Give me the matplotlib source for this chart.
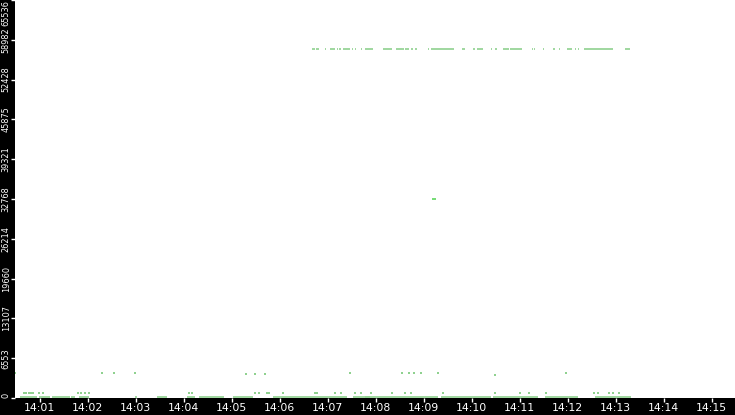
import matplotlib
matplotlib.use("Agg")
import matplotlib.pyplot as plt
from matplotlib.ticker import FuncFormatter

# times are seconds after 14:00:00, values are raw levels (0..65536)

# upper band (~57600): segments start/end
top_level = 57500
top_start = [400, 405, 416.6, 422.5, 431.6, 434.1, 438.4, 450, 454.1, 460.9, 466.6,
             489.1, 505, 516.6, 524.1, 529.1, 545, 548.4, 587.5, 601.6, 606, 623.4,
             629.1, 638.4, 647.5, 675, 677.5, 689.1, 693.4, 697.5, 701.6, 709.1,
             718.4, 728.4, 732.5, 740, 791.6]
top_end = [403.4, 409.1, 417.5, 429.1, 432.5, 436.6, 447.5, 450.9, 455, 462.5, 475.9,
           500, 515, 520.9, 526.6, 530.9, 545.9, 577.5, 590.9, 603.4, 614.1, 625,
           631.6, 645.9, 662.5, 675.9, 678.4, 689.9, 694.2, 698.3, 703.4, 709.9,
           725, 730, 733.4, 776.6, 797.5]

# middle band (32768)
mid_level = 32768
mid_start = [542.5, 546.3, 550]
mid_end = [543.3, 547.1, 555]

# low points (~4096)
low_t = [29.6, 137.9, 152.9, 179.1, 317.5, 329.1, 341.6, 447.9, 512.9, 522.1,
         527.9, 537.1, 557.9, 629.1, 717.9]
low_v = [4096, 4096, 4096, 4096, 3900, 3900, 3900, 4096, 4096, 4096,
         4096, 4096, 4096, 3800, 4096]

# small points (~800)
small_t = [40, 43, 46, 49, 52, 59.1, 63.4, 108, 112, 116, 121, 246, 250, 329.1,
           334.1, 344.1, 346.6, 364.1, 404.1, 406.6, 428.4, 436.6, 454.1, 461.6,
           473.8, 500.4, 516.3, 523.8, 563.8, 628.8, 660.4, 672.1, 692.9, 752.9,
           757.9, 771.3, 777.1, 783.8]
small_level = 800

# floor band (~150)
floor_level = 150
floor_start = [35, 58.8, 75, 99.1, 109.1, 179.1, 206.6, 243.4, 258.4, 301.6, 351.6,
               451.6, 466.3, 562.1, 627.1, 691.3, 753.8]
floor_end = [56.6, 72.5, 97.5, 104.1, 121.6, 180.9, 218.4, 253.4, 290, 326.6, 443.4,
             472.5, 557.9, 624.6, 682.9, 732.9, 799.6]

yticks = [0, 6553, 13107, 19660, 26214, 32768, 39321, 45875, 52428, 58982, 65536]
xticks = list(range(60, 960, 60))

green = "#8fd18f"

fig = plt.figure(figsize=(7.35, 4.15), dpi=100, facecolor="black")
ax = fig.add_axes([15 / 735, 17 / 415, 720 / 735, 398 / 415])
ax.set_facecolor("white")

ax.hlines([top_level] * len(top_start), top_start, top_end, color=green, lw=1.2)
ax.hlines([mid_level] * len(mid_start), mid_start, mid_end, color="#5cd65c", lw=1.2)
ax.hlines([floor_level] * len(floor_start), floor_start, floor_end, color=green, lw=1.2)
ax.scatter(low_t, low_v, s=1.2, marker="s", color=green, linewidths=0)
ax.scatter(small_t, [small_level] * len(small_t), s=1.2, marker="s", color=green, linewidths=0)

ax.set_xlim(29, 929)
ax.set_ylim(0, 65536)

ax.set_xticks(xticks)
ax.xaxis.set_major_formatter(FuncFormatter(lambda v, p: "14:%02d" % int(round(v / 60))))
ax.set_yticks(yticks)
ax.set_yticklabels([str(v) for v in yticks], rotation=90, va="center")

ax.tick_params(axis="x", colors="white", labelsize=7.8, length=3, width=1, pad=0.3)
ax.tick_params(axis="y", colors="white", labelsize=5.9, length=3, width=1, pad=0)
labs = ax.get_yticklabels()
labs[0].set_va("bottom")
labs[-1].set_va("top")

for s in ax.spines.values():
    s.set_visible(False)

fig.savefig("out.png", dpi=100, facecolor="black")
